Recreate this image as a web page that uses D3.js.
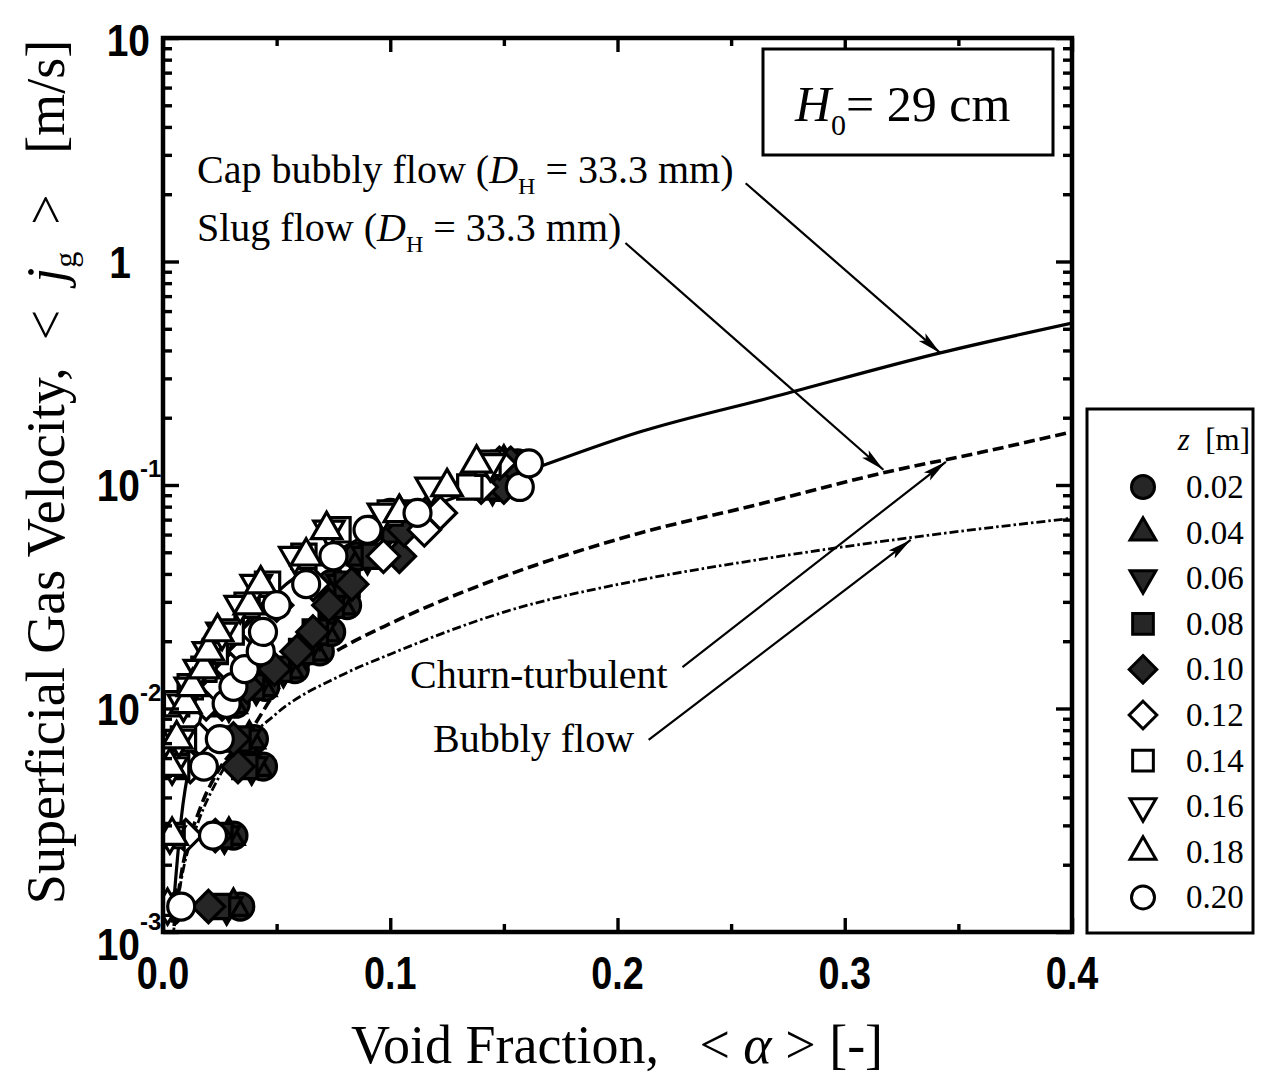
<!DOCTYPE html>
<html>
<head>
<meta charset="utf-8">
<script src="https://cdn.jsdelivr.net/npm/d3@7"></script>
<style>
  html, body { margin: 0; padding: 0; background: #fff; }
  svg { display: block; }
  text { white-space: pre; }
</style>
</head>
<body>
<div id="chart"></div>
<script>
// superficial gas velocity levels (shared by every z)
var jgLevels = [0.0013, 0.0027, 0.0055, 0.0073, 0.0105, 0.0125, 0.015, 0.018,
                0.022, 0.029, 0.036, 0.048, 0.063, 0.075, 0.098, 0.125];

var alpha_z002 = [0.034, 0.031, 0.044, 0.040, 0.032, 0.045, 0.058, 0.069, 0.074, 0.081, 0.074, 0.086, 0.091, 0.100, 0.148, 0.156];
var alpha_z004 = [0.031, 0.029, 0.041, 0.038, 0.030, 0.043, 0.055, 0.066, 0.071, 0.078, 0.077, 0.088, 0.095, 0.104, 0.142, 0.150];
var alpha_z006 = [0.028, 0.027, 0.039, 0.036, 0.029, 0.041, 0.053, 0.063, 0.069, 0.076, 0.079, 0.090, 0.099, 0.108, 0.145, 0.152];
var alpha_z008 = [0.024, 0.025, 0.036, 0.033, 0.027, 0.039, 0.051, 0.061, 0.067, 0.074, 0.081, 0.093, 0.102, 0.112, 0.143, 0.150];
var alpha_z010 = [0.020, 0.023, 0.033, 0.031, 0.026, 0.037, 0.049, 0.059, 0.066, 0.073, 0.083, 0.104, 0.106, 0.116, 0.150, 0.153];
var alpha_z012 = [0.006, 0.010, 0.012, 0.016, 0.019, 0.024, 0.030, 0.036, 0.041, 0.050, 0.066, 0.097, 0.115, 0.122, 0.140, 0.148];
var alpha_z014 = [0.002, 0.004, 0.006, 0.009, 0.006, 0.012, 0.018, 0.023, 0.030, 0.037, 0.046, 0.062, 0.077, 0.100, 0.135, 0.143];
var alpha_z016 = [0.002, 0.003, 0.004, 0.007, 0.009, 0.012, 0.016, 0.020, 0.026, 0.034, 0.041, 0.058, 0.073, 0.097, 0.118, 0.144];
var alpha_z018 = [0.002, 0.004, 0.003, 0.006, 0.010, 0.013, 0.018, 0.020, 0.024, 0.038, 0.043, 0.063, 0.072, 0.104, 0.125, 0.138];
var alpha_z020 = [0.008, 0.022, 0.018, 0.025, 0.028, 0.031, 0.036, 0.043, 0.044, 0.050, 0.063, 0.075, 0.090, 0.112, 0.157, 0.161];

var zLabels = ['0.02', '0.04', '0.06', '0.08', '0.10', '0.12', '0.14', '0.16', '0.18', '0.20'];
var zShapes = ['circle', 'tri', 'tridown', 'square', 'diamond', 'diamond', 'square', 'tridown', 'tri', 'circle'];
var zFilled = [true, true, true, true, true, false, false, false, false, false];
var zAlphas = [alpha_z002, alpha_z004, alpha_z006, alpha_z008, alpha_z010,
               alpha_z012, alpha_z014, alpha_z016, alpha_z018, alpha_z020];

// flow regime transition curves
var capAlpha = [0.004, 0.008, 0.015, 0.03, 0.05, 0.074, 0.106, 0.131, 0.16, 0.21, 0.27, 0.342, 0.4];
var capJg = [0.0011, 0.0032, 0.0078, 0.019, 0.033, 0.0487, 0.072, 0.09, 0.115, 0.173, 0.25, 0.39, 0.53];
var churnAlpha = [0.004, 0.008, 0.016, 0.024, 0.038, 0.05, 0.078, 0.1, 0.15, 0.21, 0.26, 0.318, 0.36, 0.4];
var churnJg = [0.0009, 0.0018, 0.0035, 0.0052, 0.0078, 0.012, 0.0185, 0.024, 0.039, 0.061, 0.081, 0.114, 0.14, 0.173];
var bubAlpha = [0.004, 0.008, 0.016, 0.024, 0.05, 0.078, 0.1, 0.15, 0.21, 0.26, 0.328, 0.4];
var bubJg = [0.0009, 0.0017, 0.0032, 0.0048, 0.0095, 0.014, 0.0175, 0.027, 0.0376, 0.046, 0.058, 0.071];

var xTicks = [0, 0.1, 0.2, 0.3, 0.4];
var yTicks = [1e-3, 1e-2, 1e-1, 1, 10];
var yTickLabels = [['10', '-3'], ['10', '-2'], ['10', '-1'], ['1', ''], ['10', '']];

// annotation arrows: [alpha0, jg0, alpha1, jg1]
var arrows = [
  [0.2564, 2.24, 0.342, 0.39],
  [0.2035, 1.21, 0.317, 0.117],
  [0.2286, 0.0153, 0.3445, 0.127],
  [0.2137, 0.00723, 0.329, 0.0568]
];

var W = 1267, H = 1078;
var serif = '"Liberation Serif", "Times New Roman", serif';
var sans = '"Liberation Sans", Arial, sans-serif';
var inkFill = '#262626';

var svg = d3.select('#chart').append('svg')
  .attr('width', W)
  .attr('height', H);

var x = d3.scaleLinear().domain([0, 0.4]).range([163, 1072]);
var y = d3.scaleLog().domain([1e-3, 10]).range([932, 38]);

var defs = svg.append('defs');
defs.append('clipPath').attr('id', 'plot-clip')
  .append('rect')
  .attr('x', x(0)).attr('y', y(10))
  .attr('width', x(0.4) - x(0)).attr('height', y(1e-3) - y(10));

defs.append('marker')
  .attr('id', 'arrow-head')
  .attr('markerUnits', 'userSpaceOnUse')
  .attr('markerWidth', 26).attr('markerHeight', 14)
  .attr('viewBox', '0 -7 26 14')
  .attr('refX', 24).attr('refY', 0)
  .attr('orient', 'auto')
  .append('path')
  .attr('d', 'M0,-5L24,0L0,5L5,0Z')
  .attr('fill', '#000');

function shapePath(type, r) {
  if (type === 'circle') {
    return 'M' + r + ',0A' + r + ',' + r + ' 0 1,1 ' + (-r) + ',0A' + r + ',' + r + ' 0 1,1 ' + r + ',0Z';
  }
  var h;
  if (type === 'tri') {
    h = r * 1.3;
    return 'M0,' + (-h) + 'L' + (h * 0.866) + ',' + (h * 0.5) + 'L' + (-h * 0.866) + ',' + (h * 0.5) + 'Z';
  }
  if (type === 'tridown') {
    h = r * 1.3;
    return 'M0,' + h + 'L' + (h * 0.866) + ',' + (-h * 0.5) + 'L' + (-h * 0.866) + ',' + (-h * 0.5) + 'Z';
  }
  if (type === 'square') {
    h = r * 0.9;
    return 'M' + (-h) + ',' + (-h) + 'H' + h + 'V' + h + 'H' + (-h) + 'Z';
  }
  h = r * 1.2;
  return 'M0,' + (-h) + 'L' + h + ',0L0,' + h + 'L' + (-h) + ',0Z';
}

// curves
var plot = svg.append('g').attr('clip-path', 'url(#plot-clip)');
var line = d3.line()
  .x(function(d) { return x(d[0]); })
  .y(function(d) { return y(d[1]); })
  .curve(d3.curveMonotoneX);

function zipPts(a, b) { return a.map(function(v, i) { return [v, b[i]]; }); }

plot.append('path')
  .datum(zipPts(bubAlpha, bubJg))
  .attr('d', line)
  .attr('fill', 'none').attr('stroke', '#000')
  .attr('stroke-width', 2.8)
  .attr('stroke-dasharray', '9,3,2.5,3');

plot.append('path')
  .datum(zipPts(churnAlpha, churnJg))
  .attr('d', line)
  .attr('fill', 'none').attr('stroke', '#000')
  .attr('stroke-width', 3.6)
  .attr('stroke-dasharray', '11,5');

plot.append('path')
  .datum(zipPts(capAlpha, capJg))
  .attr('d', line)
  .attr('fill', 'none').attr('stroke', '#000')
  .attr('stroke-width', 3.2);

// data points
zAlphas.forEach(function(arr, k) {
  plot.append('g')
    .classed('series-' + k, true)
    .selectAll('path')
    .data(arr.map(function(a, i) { return [a, jgLevels[i]]; }))
    .enter()
    .append('path')
    .attr('d', shapePath(zShapes[k], 13.5))
    .attr('transform', function(d) { return 'translate(' + x(d[0]) + ',' + y(d[1]) + ')'; })
    .attr('fill', zFilled[k] ? inkFill : '#fff')
    .attr('stroke', '#000')
    .attr('stroke-width', 3.2);
});

// arrows
svg.append('g').selectAll('line')
  .data(arrows)
  .enter()
  .append('line')
  .attr('x1', function(d) { return x(d[0]); })
  .attr('y1', function(d) { return y(d[1]); })
  .attr('x2', function(d) { return x(d[2]); })
  .attr('y2', function(d) { return y(d[3]); })
  .attr('stroke', '#000')
  .attr('stroke-width', 2.2)
  .attr('marker-end', 'url(#arrow-head)');

// axes: inward ticks on all four sides
var yMinor = [];
[1e-3, 1e-2, 1e-1, 1].forEach(function(dec) {
  for (var m = 2; m <= 9; m++) yMinor.push(dec * m);
});
var xMinor = [0.05, 0.15, 0.25, 0.35];

function tickGroup(axis, tx, ty) {
  var g = svg.append('g')
    .attr('transform', 'translate(' + tx + ',' + ty + ')')
    .call(axis);
  g.select('.domain').remove();
  g.selectAll('.tick line').attr('stroke', '#000').attr('stroke-width', 3.4);
  g.selectAll('.tick text').remove();
  return g;
}

tickGroup(d3.axisLeft(y).tickValues(yTicks).tickSize(-16), x(0), 0);
tickGroup(d3.axisLeft(y).tickValues(yMinor).tickSize(-9), x(0), 0);
tickGroup(d3.axisRight(y).tickValues(yTicks).tickSize(-16), x(0.4), 0);
tickGroup(d3.axisRight(y).tickValues(yMinor).tickSize(-9), x(0.4), 0);
tickGroup(d3.axisBottom(x).tickValues(xTicks).tickSize(-14), 0, y(1e-3));
tickGroup(d3.axisBottom(x).tickValues(xMinor).tickSize(-8), 0, y(1e-3));
tickGroup(d3.axisTop(x).tickValues(xTicks).tickSize(-14), 0, y(10));
tickGroup(d3.axisTop(x).tickValues(xMinor).tickSize(-8), 0, y(10));

svg.append('rect')
  .attr('x', x(0)).attr('y', y(10))
  .attr('width', x(0.4) - x(0)).attr('height', y(1e-3) - y(10))
  .attr('fill', 'none').attr('stroke', '#000').attr('stroke-width', 4.5);

// tick labels (bold, slightly condensed like the original)
svg.append('g').selectAll('text')
  .data(xTicks)
  .enter()
  .append('text')
  .attr('transform', function(d) { return 'translate(' + x(d) + ',989) scale(0.9,1.12)'; })
  .attr('text-anchor', 'middle')
  .style('font-family', sans)
  .style('font-weight', 700)
  .style('font-size', '42px')
  .text(function(d) { return d3.format('.1f')(d); });

svg.append('g').selectAll('text')
  .data(yTicks)
  .enter()
  .append('text')
  .attr('transform', function(d, i) {
    var tx = yTickLabels[i][1] ? 140 : (d === 1 ? 131 : 150);
    var ty = i === 0 ? 960 : (i === 4 ? 56 : y(d) + 16);
    return 'translate(' + tx + ',' + ty + ') scale(0.95,1.1)';
  })
  .attr('text-anchor', 'end')
  .style('font-family', sans)
  .style('font-weight', 700)
  .style('font-size', '41px')
  .text(function(d, i) { return yTickLabels[i][0]; });

svg.append('g').selectAll('text')
  .data(yTicks.filter(function(d, i) { return yTickLabels[i][1]; }))
  .enter()
  .append('text')
  .attr('x', 140)
  .attr('y', function(d, i) { return i === 0 ? 930 : y(d) - 8; })
  .style('font-family', sans)
  .style('font-weight', 700)
  .style('font-size', '24px')
  .text(function(d, i) { return yTickLabels[i][1]; });

// axis titles
var xt = svg.append('text')
  .attr('x', 617).attr('y', 1063)
  .attr('text-anchor', 'middle')
  .style('font-family', serif)
  .style('font-size', '54px');
xt.append('tspan').text('Void Fraction,   < ');
xt.append('tspan').style('font-style', 'italic').text('α');
xt.append('tspan').text(' > [-]');

var yt = svg.append('text')
  .attr('transform', 'translate(64,472) rotate(-90)')
  .attr('text-anchor', 'middle')
  .style('font-family', serif)
  .style('font-size', '54px');
yt.append('tspan').text('Superficial Gas Velocity,  <  ');
yt.append('tspan').style('font-style', 'italic').text('j');
yt.append('tspan').attr('dy', 12).style('font-size', '32px').text('g');
yt.append('tspan').attr('dy', -12).text('  >   [m/s]');

// annotations
function dhLabel(tx, ty, pre) {
  var t = svg.append('text')
    .attr('x', tx).attr('y', ty)
    .style('font-family', serif)
    .style('font-size', '40px');
  t.append('tspan').text(pre + ' (');
  t.append('tspan').style('font-style', 'italic').text('D');
  t.append('tspan').attr('dy', 11).style('font-size', '24px').text('H');
  t.append('tspan').attr('dy', -11).text(' = 33.3 mm)');
}
dhLabel(197, 183, 'Cap bubbly flow');
dhLabel(197, 241, 'Slug flow');

svg.append('text')
  .attr('x', 410).attr('y', 688)
  .style('font-family', serif)
  .style('font-size', '40px')
  .text('Churn-turbulent');
svg.append('text')
  .attr('x', 433).attr('y', 752)
  .style('font-family', serif)
  .style('font-size', '40px')
  .text('Bubbly flow');

svg.append('rect')
  .attr('x', 763).attr('y', 49)
  .attr('width', 290).attr('height', 106)
  .attr('fill', '#fff').attr('stroke', '#000').attr('stroke-width', 3);
var ht = svg.append('text')
  .attr('x', 795).attr('y', 121)
  .style('font-family', serif)
  .style('font-size', '50px');
ht.append('tspan').style('font-style', 'italic').text('H');
ht.append('tspan').attr('dy', 14).style('font-size', '30px').text('0');
ht.append('tspan').attr('dy', -14).text('= 29 cm');

// legend
var lg = svg.append('g').classed('legend', true);
lg.append('rect')
  .attr('x', 1087).attr('y', 409)
  .attr('width', 166).attr('height', 524)
  .attr('fill', '#fff').attr('stroke', '#000').attr('stroke-width', 3);
var lt = lg.append('text')
  .attr('x', 1250).attr('y', 450)
  .attr('text-anchor', 'end')
  .style('font-family', serif)
  .style('font-size', '31px');
lt.append('tspan').style('font-style', 'italic').text('z');
lt.append('tspan').text('  [m]');

var rows = lg.selectAll('g.row')
  .data(zLabels)
  .enter()
  .append('g')
  .classed('row', true)
  .attr('transform', function(d, i) { return 'translate(0,' + (487 + i * 45.6) + ')'; });
rows.append('path')
  .attr('d', function(d, i) { return shapePath(zShapes[i], 11.5); })
  .attr('transform', 'translate(1143,0)')
  .attr('fill', function(d, i) { return zFilled[i] ? inkFill : '#fff'; })
  .attr('stroke', '#000')
  .attr('stroke-width', 3);
rows.append('text')
  .attr('x', 1186).attr('y', 11)
  .style('font-family', serif)
  .style('font-size', '33px')
  .text(function(d) { return d; });
</script>
</body>
</html>
